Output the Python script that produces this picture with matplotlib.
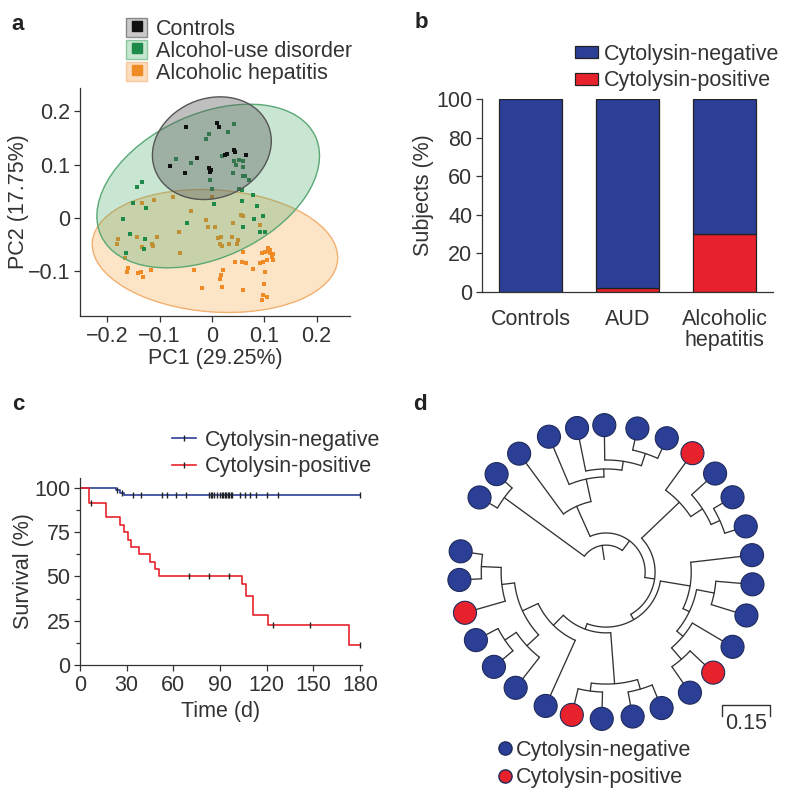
import numpy as np
import matplotlib.pyplot as plt
from matplotlib.patches import Ellipse, Patch
from matplotlib.lines import Line2D
from matplotlib.legend_handler import HandlerTuple

plt.rcParams['font.family'] = ['Liberation Sans', 'DejaVu Sans']
plt.rcParams['font.size'] = 15.5
for key in ['text.color', 'axes.labelcolor', 'xtick.color', 'ytick.color', 'axes.edgecolor']:
    plt.rcParams[key] = '#333333'
plt.rcParams['axes.linewidth'] = 0.9

# ---------------- panel a: PCA ----------------
controls_pc1 = [-0.050, 0.009, 0.013, 0.028, 0.042, 0.045, 0.065, -0.029, -0.080,
                -0.051, -0.006, -0.004, 0.026, -0.002]
controls_pc2 = [0.170, 0.179, 0.171, 0.121, 0.128, 0.123, 0.119, 0.113, 0.098,
                0.084, 0.093, 0.087, 0.118, 0.090]
aud_pc1 = [0.043, 0.030, -0.005, -0.011, -0.068, -0.040, 0.020, 0.043, 0.052, 0.060,
           0.046, 0.059, 0.041, 0.059, 0.064, 0.071, -0.004, 0.001, 0.052, 0.057,
           0.078, -0.144, -0.134, -0.150, -0.126, 0.004, 0.057, 0.087, -0.170, -0.047,
           0.080, 0.098, 0.059, -0.157, -0.128, -0.129, -0.165, 0.092, 0.102]
aud_pc2 = [0.176, 0.161, 0.157, 0.148, 0.110, 0.104, 0.117, 0.107, 0.109, 0.107,
           0.099, 0.095, 0.085, 0.079, 0.079, 0.071, 0.071, 0.054, 0.054, 0.053,
           0.044, 0.058, 0.067, 0.028, 0.018, 0.026, 0.031, 0.023, -0.001, -0.009,
           -0.001, 0.004, -0.016, -0.031, -0.040, -0.059, -0.066, -0.027, -0.026]
ah_pc1 = [-0.111, -0.133, -0.074, 0.001, -0.040, -0.011, -0.007, 0.006, -0.062, -0.104,
          -0.143, -0.182, -0.179, -0.134, -0.115, -0.112, -0.061, 0.011, 0.018, 0.015,
          0.038, 0.050, 0.055, 0.060, 0.041, 0.092, 0.020, 0.033, 0.048, 0.060,
          0.045, 0.066, 0.079, 0.095, 0.101, 0.108, 0.111, 0.114, 0.117, 0.105,
          0.098, 0.092, 0.101, -0.160, -0.163, -0.141, -0.136, -0.117, -0.131, -0.034,
          0.022, 0.018, 0.015, 0.057, -0.018, 0.020, 0.059, 0.100, 0.098, 0.095,
          0.105, -0.166, 0.107, 0.112, 0.116]
ah_pc2 = [0.034, 0.028, 0.040, 0.040, 0.014, -0.004, -0.016, -0.016, -0.026, -0.035,
          -0.035, -0.048, -0.040, -0.054, -0.049, -0.053, -0.065, -0.037, -0.036, -0.048,
          -0.035, -0.041, 0.006, 0.004, -0.010, -0.013, -0.053, -0.049, -0.048, -0.063,
          -0.082, -0.085, -0.096, -0.066, -0.063, -0.057, -0.066, -0.073, -0.079, -0.079,
          -0.082, -0.085, -0.101, -0.094, -0.101, -0.103, -0.101, -0.098, -0.110, -0.098,
          -0.098, -0.107, -0.115, -0.082, -0.131, -0.129, -0.135, -0.123, -0.144, -0.154,
          -0.148, -0.076, -0.062, -0.060, -0.068]
# confidence ellipses: centre, width, height, angle
ell_center = [(0.000, 0.131), (-0.007, 0.060), (0.006, -0.062)]
ell_width = [0.232, 0.450, 0.470]
ell_height = [0.187, 0.270, 0.229]
ell_angle = [20, 24, -4]
pca_labels = ["Controls", "Alcohol-use disorder", "Alcoholic hepatitis"]
pca_xticks = [-0.2, -0.1, 0, 0.1, 0.2]
pca_xticklabels = ["\u22120.2", "\u22120.1", "0", "0.1", "0.2"]
pca_yticks = [-0.1, 0, 0.1, 0.2]
pca_yticklabels = ["\u22120.1", "0", "0.1", "0.2"]

# ---------------- panel b: stacked bars ----------------
bar_groups = ["Controls", "AUD", "Alcoholic\nhepatitis"]
pct_positive = [0, 2, 30]
pct_negative = [100, 98, 70]

# ---------------- panel c: survival ----------------
neg_times = [0, 23, 26, 28, 180]
neg_surv = [100, 98.6, 97.2, 95.8, 95.8]
neg_censor = [24, 27, 34, 39, 53, 56, 62, 68, 83, 84, 85, 86, 88, 90, 91, 92, 93, 94,
              95, 96, 97, 98, 103, 106, 109, 113, 120, 127, 180]
pos_times = [0, 6, 17, 26, 28, 31, 33, 38, 45, 48, 51, 104, 107, 111, 121, 173, 180]
pos_surv = [100, 91.7, 83.3, 79.2, 75, 70.8, 66.7, 62.5, 58.3, 54.2, 50, 45.5, 39,
            28.3, 22.6, 11.3, 11.3]
pos_censor = [7, 70, 83, 96, 124, 148, 180]

# ---------------- panel d: tree ----------------
tree_newick = ("((L27,L28):0.31,((L29,(L1,(L2,(L3,(L4,L5):0.04):0.028):0.025):0.072):0.103,"
               "((L6,(L7,(L8,L9):0.03):0.044):0.163,"
               "((L10,((L11,L12):0.056,(L13,(L14,L15):0.047):0.025):0.022):0.094,"
               "(((L19,L18):0.025,(L17,L16):0.031):0.16,"
               "(L20,(((L26,L25):0.062,L24):0.04,((L23,L22):0.043,L21):0.05):0.054):0.044)"
               ":0.018):0.019):0.031):0.038):0.044;")
leaf_angles = [112.9, 101.4, 90.7, 77.7, 65.6, 54.0, 42.1, 30.6, 18.1, 6.6,
               -4.8, -17.2, -30.6, -43.2, -55.2, -67.8, -79.6, -91.7, -103.5, -114.3,
               -128.0, -139.8, -152.4, -163.9, -176.9, -188.1, 149.5, 138.2, 126.3]
leaf_positive = [0, 0, 0, 0, 0, 1, 0, 0, 0, 0, 0, 0, 0, 1, 0, 0, 0, 0, 1, 0,
                 0, 0, 0, 1, 0, 0, 0, 0, 0]
scale_bar = 0.15

BLUE = '#2c3f97'
RED = '#e8222c'
LINE = '#333333'
W, H = 791, 796


def px_rect(left, top, right, bottom):
    return [left / W, 1 - bottom / H, (right - left) / W, (bottom - top) / H]


def style_axes(ax):
    for s in ['top', 'right']:
        ax.spines[s].set_visible(False)
    ax.tick_params(length=4, width=0.9, pad=3)


fig = plt.figure(figsize=(W / 100, H / 100), dpi=100)

# ---- a ----
ax = fig.add_axes(px_rect(80, 88, 350, 316))
style_axes(ax)
pts = [(ah_pc1, ah_pc2), (aud_pc1, aud_pc2), (controls_pc1, controls_pc2)]
dot_colors = ['#f08a24', '#1e8a4a', '#111111']
fills = [(0.97, 0.62, 0.22, 0.28), (0.25, 0.65, 0.38, 0.28), (0.35, 0.35, 0.35, 0.38)]
edges = ['#f2b070', '#5aa874', '#555555']
for k, i in enumerate([2, 1, 0]):
    ax.add_patch(Ellipse(ell_center[i], ell_width[i], ell_height[i], angle=ell_angle[i],
                         facecolor=fills[k], edgecolor=edges[k], lw=1.0, zorder=1 + 2 * k))
    ax.scatter(pts[k][0], pts[k][1], marker='s', s=9, color=dot_colors[k], lw=0,
               zorder=2 + 2 * k)
ax.set_xlim(-0.252, 0.264)
ax.set_ylim(-0.184, 0.244)
ax.set_xticks(pca_xticks)
ax.set_xticklabels(pca_xticklabels)
ax.set_yticks(pca_yticks)
ax.set_yticklabels(pca_yticklabels)
ax.set_xlabel("PC1 (29.25%)", labelpad=1)
ax.set_ylabel("PC2 (17.75%)", labelpad=-1)
light = ['#c9c9c9', '#c5e6cf', '#fcdcbc']
ledge = ['#8a8a8a', '#8cc9a0', '#f6c89a']
dark = ['#111111', '#1e8a4a', '#f08a24']
handles = [(Patch(facecolor=light[i], edgecolor=ledge[i], lw=1),
            Line2D([], [], marker='s', ls='', color=dark[i], markersize=7.5))
           for i in range(3)]
ax.legend(handles, pca_labels, handler_map={tuple: HandlerTuple(ndivide=1, pad=0)},
          loc='upper left', bbox_to_anchor=(126 / W, 1 - 18 / H),
          bbox_transform=fig.transFigure, frameon=False, borderpad=0,
          borderaxespad=0, handlelength=0.98, handleheight=0.98, handletextpad=0.4,
          labelspacing=0.0)

# ---- b ----
ax = fig.add_axes(px_rect(482, 99, 773, 292))
style_axes(ax)
xb = np.arange(len(bar_groups))
ax.bar(xb, pct_positive, width=0.65, color=RED, edgecolor='#222222', lw=0.9,
       label="Cytolysin-positive")
ax.bar(xb, pct_negative, width=0.65, bottom=pct_positive, color=BLUE,
       edgecolor='#222222', lw=0.9, label="Cytolysin-negative")
ax.set_xlim(-0.5, 2.5)
ax.set_ylim(0, 100)
ax.set_yticks([0, 20, 40, 60, 80, 100])
ax.set_xticks(xb)
ax.set_xticklabels(bar_groups, linespacing=1.05)
ax.tick_params(axis='x', length=0, pad=12)
ax.set_ylabel("Subjects (%)", labelpad=1.5)
h, l = ax.get_legend_handles_labels()
ax.legend(h[::-1], l[::-1], loc='upper left', bbox_to_anchor=(575 / W, 1 - 44 / H),
          bbox_transform=fig.transFigure, frameon=False, borderpad=0, borderaxespad=0,
          handlelength=1.05, handleheight=0.5, handletextpad=0.3, labelspacing=0.25)

# ---- c ----
ax = fig.add_axes(px_rect(80, 478, 362, 665))
style_axes(ax)


def level_at(times, surv, t):
    idx = np.searchsorted(times, t, side='right') - 1
    return np.asarray(surv)[idx]


ax.step(neg_times, neg_surv, where='post', color=BLUE, lw=1.2, label="Cytolysin-negative")
ax.step(pos_times, pos_surv, where='post', color=RED, lw=1.2, label="Cytolysin-positive")
ax.plot(neg_censor, level_at(neg_times, neg_surv, neg_censor), ls='', marker='|',
        color='#222222', ms=5, mew=1)
ax.plot(pos_censor, level_at(pos_times, pos_surv, pos_censor), ls='', marker='|',
        color='#222222', ms=5, mew=1)
ax.set_xlim(0, 181.3)
ax.set_ylim(0, 105.6)
ax.set_xticks(np.arange(0, 181, 30))
ax.set_yticks([0, 25, 50, 75, 100])
ax.set_yticks(np.arange(0, 101, 12.5), minor=True)
ax.tick_params(axis='y', which='minor', length=3, width=0.9)
ax.set_xlabel("Time (d)", labelpad=4)
ax.set_ylabel("Survival (%)", labelpad=0)
leg_h = [Line2D([], [], color=BLUE, lw=1.2, marker='|', mec='#222222', ms=5),
         Line2D([], [], color=RED, lw=1.2, marker='|', mec='#222222', ms=5)]
ax.legend(leg_h, ["Cytolysin-negative", "Cytolysin-positive"], loc='upper left',
          bbox_to_anchor=(172 / W, 1 - 430 / H), bbox_transform=fig.transFigure,
          frameon=False, borderpad=0, borderaxespad=0, handlelength=1.1,
          handletextpad=0.45, labelspacing=0.25)

# ---- d ----
ax = fig.add_axes(px_rect(440, 400, 785, 790))
ax.axis('off')
ax.set_xlim(-0.519, 0.559)
ax.set_ylim(-0.681, 0.5375)


def parse_newick(s):
    pos = 0

    def node():
        nonlocal pos
        children = []
        if s[pos] == '(':
            pos += 1
            children.append(node())
            while s[pos] == ',':
                pos += 1
                children.append(node())
            pos += 1
        start = pos
        while s[pos] not in ',():;':
            pos += 1
        name = s[start:pos]
        length = 0.0
        if s[pos] == ':':
            pos += 1
            start = pos
            while s[pos] not in ',();':
                pos += 1
            length = float(s[start:pos])
        return {'name': name, 'children': children, 'length': length}

    return node()


leaf_r = 0.459
root_start = 0.04


def layout(nd, r_parent):
    if not nd['children']:
        nd['angle'] = leaf_angles[int(nd['name'][1:]) - 1]
        nd['r'] = leaf_r
        return
    nd['r'] = r_parent + nd['length']
    for ch in nd['children']:
        layout(ch, nd['r'])
    nd['angle'] = (nd['children'][0]['angle'] + nd['children'][-1]['angle']) / 2


def polar(r, a):
    a = np.radians(a)
    return r * np.cos(a), r * np.sin(a)


def draw(nd):
    if not nd['children']:
        return
    angs = [ch['angle'] for ch in nd['children']]
    th = np.linspace(min(angs), max(angs), 80)
    ax.plot(*polar(nd['r'], th), color=LINE, lw=0.95, solid_capstyle='round')
    for ch in nd['children']:
        x0, y0 = polar(nd['r'], ch['angle'])
        x1, y1 = polar(ch['r'], ch['angle'])
        ax.plot([x0, x1], [y0, y1], color=LINE, lw=0.95, solid_capstyle='round')
        draw(ch)


tree = parse_newick(tree_newick)
layout(tree, root_start)
draw(tree)
x0, y0 = polar(root_start, tree['angle'])
x1, y1 = polar(tree['r'], tree['angle'])
ax.plot([x0, x1], [y0, y1], color=LINE, lw=0.95)

lx, ly = polar(leaf_r, np.array(leaf_angles))
leaf_cols = [RED if p else BLUE for p in leaf_positive]
ax.scatter(lx, ly, s=275, c=leaf_cols, edgecolors='#1d2a5a', linewidths=0.8, zorder=5)

sb_x, sb_y = 0.3625, -0.4156
ax.plot([sb_x, sb_x, sb_x + scale_bar, sb_x + scale_bar],
        [sb_y - 0.035, sb_y, sb_y, sb_y - 0.035], color=LINE, lw=1.0)
ax.text(sb_x + scale_bar / 2, -0.472, "0.15", ha='center', va='center')

leg_h = [Line2D([], [], ls='', marker='o', color=BLUE, mec='#1d2a5a', ms=9.5),
         Line2D([], [], ls='', marker='o', color=RED, mec='#1d2a5a', ms=9.5)]
ax.legend(leg_h, ["Cytolysin-negative", "Cytolysin-positive"], loc='upper left',
          bbox_to_anchor=(499 / W, 1 - 740 / H), bbox_transform=fig.transFigure,
          frameon=False, borderpad=0, borderaxespad=0, handlelength=0.6,
          handletextpad=0.2, labelspacing=0.3)

for letter, (x, y) in zip("abcd", [(18, 24), (421, 23), (18, 405), (420, 405)]):
    fig.text(x / W, 1 - y / H, letter, fontsize=16, fontweight='bold', color='#222222',
             ha='center', va='center')

fig.savefig("out.png", dpi=100)
